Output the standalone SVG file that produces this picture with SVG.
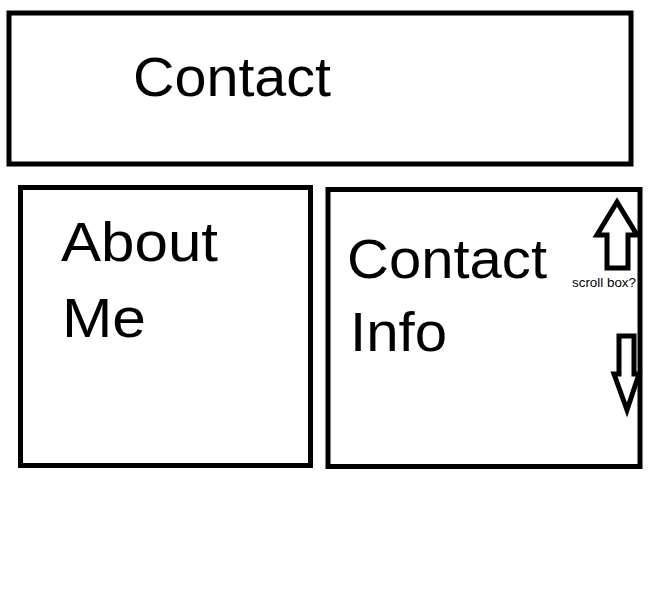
<svg xmlns="http://www.w3.org/2000/svg" width="654" height="609" viewBox="0 0 654 609">
<style>
.box{fill:#fff;stroke:#000;stroke-width:5}
.arrow{fill:#fff;stroke:#000;stroke-width:5;stroke-linejoin:miter}
.big{font-family:"Liberation Sans",Arial,sans-serif;font-size:55px;fill:#000}
.small{font-family:"Liberation Sans",Arial,sans-serif;font-size:12px;fill:#000}
</style>
<rect width="654" height="609" fill="#fff"/>
<g id="contact-header">
<rect class="box" x="9" y="13" width="622" height="151"/>
<text class="big" x="133" y="96" textLength="198" lengthAdjust="spacingAndGlyphs">Contact</text>
</g>
<g id="about-me">
<rect class="box" x="20.5" y="187.5" width="290" height="278"/>
<text class="big" x="61" y="261" textLength="157" lengthAdjust="spacingAndGlyphs">About</text>
<text class="big" x="62" y="337" textLength="84" lengthAdjust="spacingAndGlyphs">Me</text>
</g>
<g id="contact-info">
<rect class="box" x="328" y="189.5" width="312" height="277"/>
<text class="big" x="347" y="278" textLength="200" lengthAdjust="spacingAndGlyphs">Contact</text>
<text class="big" x="350" y="351" textLength="97" lengthAdjust="spacingAndGlyphs">Info</text>
<text class="small" x="572" y="287" textLength="64" lengthAdjust="spacingAndGlyphs">scroll box?</text>
</g>
<g id="connectors">
<polygon class="arrow" points="617,202 637,235 628,235 628,268 607,268 607,235 597,235"/>
<polygon class="arrow" points="619,336 634,336 634,374 639,374 627,410 614,374 619,374"/>
</g>
</svg>
